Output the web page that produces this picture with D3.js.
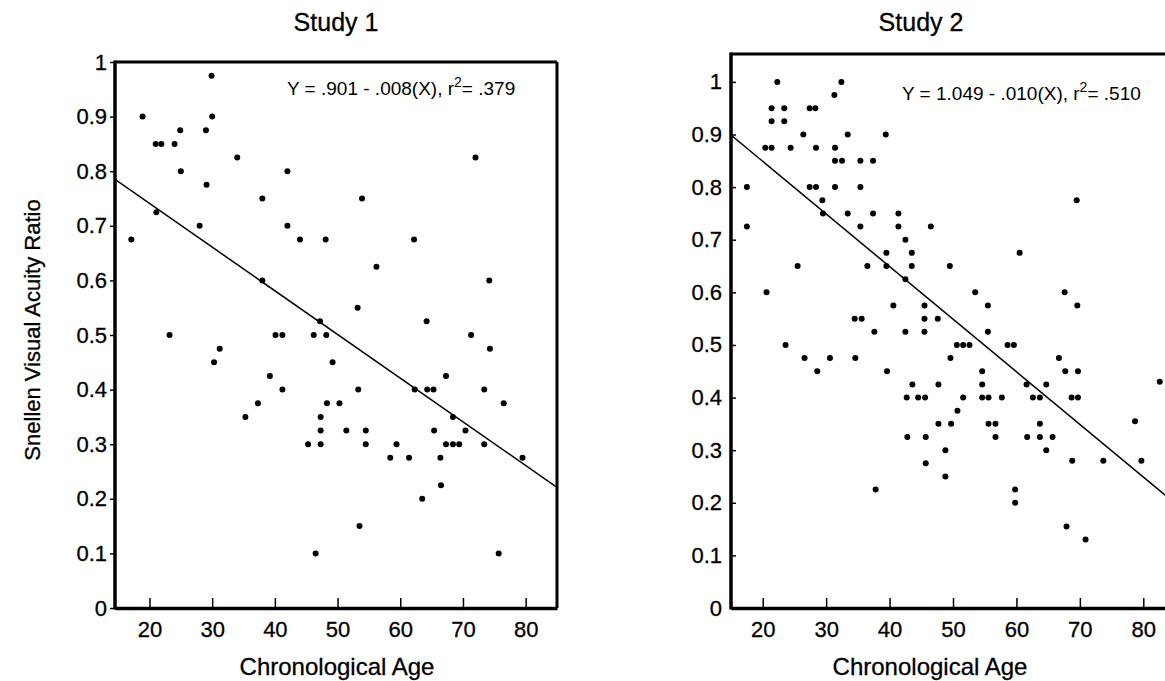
<!DOCTYPE html>
<html>
<head>
<meta charset="utf-8">
<script src="https://cdn.jsdelivr.net/npm/d3@7"></script>
<style>
  body { margin: 0; background: #fff; }
  svg { font-family: "Liberation Sans", Arial, Helvetica, sans-serif; }
</style>
</head>
<body>
<svg id="canvas" width="1165" height="681"></svg>
<script>
// chart values
let panelTitles = ['Study 1', 'Study 2'];
let equations = ['Y = .901 - .008(X), r', 'Y = 1.049 - .010(X), r'];
let rSquared = ['.379', '.510'];
let intercepts = [0.901, 1.049];
let slopes = [-0.008, -0.010];

let ageTicks = [20, 30, 40, 50, 60, 70, 80];
let acuityTicks = [0, 0.1, 0.2, 0.3, 0.4, 0.5, 0.6, 0.7, 0.8, 0.9, 1];
let acuityTickLabels = ['0', '0.1', '0.2', '0.3', '0.4', '0.5', '0.6', '0.7', '0.8', '0.9', '1'];

let study1Age = [29.9, 18.9, 30, 21, 21.9, 24, 24.9, 29, 34, 25, 42, 29.1, 38, 21.1, 28, 42, 72, 53.9, 17.1, 44,
  48.1, 38, 47.2, 23.2, 40.1, 41.2, 46.2, 48.2, 31.2, 30.3, 39.2, 41.2, 37.3, 48.3, 35.3, 47.3, 62.2, 56.2, 74.2, 53.2,
  64.2, 71.3, 74.3, 49.2, 67.3, 53.3, 62.3, 64.3, 65.3, 73.4, 50.3, 76.5, 68.4, 47.3, 45.3, 47.3, 46.5, 51.4, 54.5, 54.5,
  65.4, 70.4, 59.4, 67.3, 68.4, 69.4, 73.4, 58.4, 61.4, 66.4, 79.5, 66.5, 63.5, 53.5, 75.7];
let study1Acuity = [0.975, 0.9, 0.9, 0.85, 0.85, 0.85, 0.875, 0.875, 0.825, 0.8, 0.8, 0.775, 0.75, 0.725, 0.7, 0.7, 0.825, 0.75, 0.675, 0.675,
  0.675, 0.6, 0.525, 0.5, 0.5, 0.5, 0.5, 0.5, 0.475, 0.45, 0.425, 0.4, 0.375, 0.375, 0.35, 0.35, 0.675, 0.625, 0.6, 0.55,
  0.525, 0.5, 0.475, 0.45, 0.425, 0.4, 0.4, 0.4, 0.4, 0.4, 0.375, 0.375, 0.35, 0.325, 0.3, 0.3, 0.1, 0.325, 0.325, 0.3,
  0.325, 0.325, 0.3, 0.3, 0.3, 0.3, 0.3, 0.275, 0.275, 0.275, 0.275, 0.225, 0.2, 0.15, 0.1];

let study2Age = [22.3, 32.4, 31.3, 21.4, 23.4, 27.4, 28.3, 21.4, 23.4, 26.4, 33.4, 39.4, 20.4, 21.4, 24.4, 28.4, 31.4, 31.4, 32.5, 35.4,
  37.4, 17.5, 27.4, 28.4, 31.4, 35.4, 29.4, 29.5, 33.4, 37.4, 41.4, 17.5, 35.4, 41.4, 69.5, 46.5, 42.5, 39.5, 43.5, 25.5,
  36.5, 39.5, 43.5, 42.5, 20.6, 40.6, 34.5, 35.6, 37.6, 42.5, 23.6, 26.6, 30.6, 34.6, 28.6, 39.6, 43.6, 42.7, 44.5, 60.5,
  49.5, 53.5, 67.6, 55.5, 69.6, 45.5, 45.5, 47.6, 45.5, 55.5, 50.6, 51.6, 52.6, 58.6, 59.6, 49.6, 66.7, 54.6, 67.7, 69.7,
  47.7, 54.6, 61.6, 64.7, 82.6, 45.6, 51.6, 54.6, 55.6, 57.7, 62.6, 63.7, 68.7, 69.7, 50.7, 42.8, 37.8, 47.7, 49.7, 55.6,
  56.7, 63.7, 78.7, 45.7, 56.7, 61.7, 63.7, 65.7, 48.8, 64.7, 45.7, 68.8, 73.7, 79.7, 48.8, 59.8, 59.8, 67.9, 70.9];
let study2Acuity = [1.0, 1.0, 0.975, 0.95, 0.95, 0.95, 0.95, 0.925, 0.925, 0.9, 0.9, 0.9, 0.875, 0.875, 0.875, 0.875, 0.875, 0.85, 0.85, 0.85,
  0.85, 0.8, 0.8, 0.8, 0.8, 0.8, 0.775, 0.75, 0.75, 0.75, 0.75, 0.725, 0.725, 0.725, 0.775, 0.725, 0.7, 0.675, 0.675, 0.65,
  0.65, 0.65, 0.65, 0.625, 0.6, 0.575, 0.55, 0.55, 0.525, 0.525, 0.5, 0.475, 0.475, 0.475, 0.45, 0.45, 0.425, 0.4, 0.4, 0.675,
  0.65, 0.6, 0.6, 0.575, 0.575, 0.575, 0.55, 0.55, 0.525, 0.525, 0.5, 0.5, 0.5, 0.5, 0.5, 0.475, 0.475, 0.45, 0.45, 0.45,
  0.425, 0.425, 0.425, 0.425, 0.43, 0.4, 0.4, 0.4, 0.4, 0.4, 0.4, 0.4, 0.4, 0.4, 0.375, 0.325, 0.225, 0.35, 0.35, 0.35,
  0.35, 0.35, 0.355, 0.325, 0.325, 0.325, 0.325, 0.325, 0.3, 0.3, 0.275, 0.28, 0.28, 0.28, 0.25, 0.225, 0.2, 0.155, 0.13];

let canvas = d3.select('#canvas');

// panel layout
let panels = [
  { ages: study1Age, acuity: study1Acuity, left: 115, right: 557, top: 62, bottom: 608,
    xDomain: [14.5, 85], yMax: 1, yTickSize: 5, yPad: 3, rightBorder: true },
  { ages: study2Age, acuity: study2Acuity, left: 731, right: 1175, top: 54, bottom: 608,
    xDomain: [15, 85], yMax: 1.053, yTickSize: -5, yPad: 9, rightBorder: false }
];

let drawPanel = (p, i) => {
  let x = d3.scaleLinear().domain(p.xDomain).range([p.left, p.right]);
  let y = d3.scaleLinear().domain([0, p.yMax]).range([p.bottom, p.top]);
  let g = canvas.append('g');

  //clip so the fit line stays inside the frame
  let clipId = 'clip' + i;
  g.append('clipPath').attr('id', clipId)
    .append('rect')
    .attr('x', p.left).attr('y', p.top)
    .attr('width', p.right - p.left).attr('height', p.bottom - p.top);

  //frame on top and right
  g.append('line')
    .attr('x1', p.left).attr('x2', p.rightBorder ? p.right : 1165)
    .attr('y1', p.top).attr('y2', p.top)
    .attr('stroke', '#000').attr('stroke-width', 3);
  if (p.rightBorder) {
    g.append('line')
      .attr('x1', p.right).attr('x2', p.right)
      .attr('y1', p.top).attr('y2', p.bottom)
      .attr('stroke', '#000').attr('stroke-width', 3);
  }

  //axes
  let yAxis = d3.axisLeft(y)
    .tickValues(acuityTicks)
    .tickFormat((d, k) => acuityTickLabels[k])
    .tickSize(p.yTickSize)
    .tickSizeOuter(0)
    .tickPadding(p.yPad);
  let yG = g.append('g').attr('transform', 'translate(' + p.left + ',0)').call(yAxis);

  let xAxis = d3.axisBottom(x)
    .tickValues(ageTicks)
    .tickFormat(d3.format('d'))
    .tickSize(-10)
    .tickSizeOuter(0)
    .tickPadding(13);
  let xG = g.append('g').attr('transform', 'translate(0,' + p.bottom + ')').call(xAxis);

  [yG, xG].forEach((ax) => {
    ax.select('.domain').attr('stroke-width', 3.5);
    ax.selectAll('.tick line').attr('stroke-width', 1.5);
    ax.selectAll('.tick text').attr('font-size', 22).attr('fill', '#000')
      .attr('stroke', '#000').attr('stroke-width', 0.3)
      .attr('font-family', '"Liberation Sans", Arial, sans-serif');
  });
  //the frame's left edge runs up to the top border
  yG.select('.domain').attr('d', 'M0,' + (p.top - 1.5) + 'V' + (p.bottom + 1.5));

  //regression line
  let fit = p.xDomain.map((a) => [a, intercepts[i] + slopes[i] * a]);
  g.append('path')
    .attr('clip-path', 'url(#' + clipId + ')')
    .attr('d', d3.line().x((d) => x(d[0])).y((d) => y(d[1]))(fit))
    .attr('fill', 'none').attr('stroke', '#000').attr('stroke-width', 1.5);

  //dots
  g.selectAll('circle.pt')
    .data(p.ages.map((a, k) => [a, p.acuity[k]]))
    .enter()
    .append('circle')
    .attr('class', 'pt')
    .attr('cx', (d) => x(d[0]))
    .attr('cy', (d) => y(d[1]))
    .attr('r', 3)
    .attr('fill', '#000');

  //equation in the top right corner
  let eq = g.append('text')
    .attr('x', i === 0 ? 287 : 902)
    .attr('y', i === 0 ? 95 : 100)
    .attr('font-size', 19)
    .text(equations[i]);
  eq.append('tspan').attr('dy', -8).attr('font-size', 14).text('2');
  eq.append('tspan').attr('dy', 8).text('= ' + rSquared[i]);

  //title and x label
  g.append('text')
    .attr('x', i === 0 ? 336 : 921).attr('y', 31)
    .attr('text-anchor', 'middle').attr('font-size', 25)
    .attr('stroke', '#000').attr('stroke-width', 0.3)
    .text(panelTitles[i]);
  g.append('text')
    .attr('x', i === 0 ? 337 : 930).attr('y', 675)
    .attr('text-anchor', 'middle').attr('font-size', 24)
    .attr('stroke', '#000').attr('stroke-width', 0.3)
    .text('Chronological Age');
};

panels.forEach(drawPanel);

//shared y label
canvas.append('text')
  .attr('transform', 'translate(40,330) rotate(-90)')
  .attr('text-anchor', 'middle')
  .attr('font-size', 22)
  .attr('stroke', '#000').attr('stroke-width', 0.3)
  .text('Snellen Visual Acuity Ratio');
</script>
</body>
</html>
